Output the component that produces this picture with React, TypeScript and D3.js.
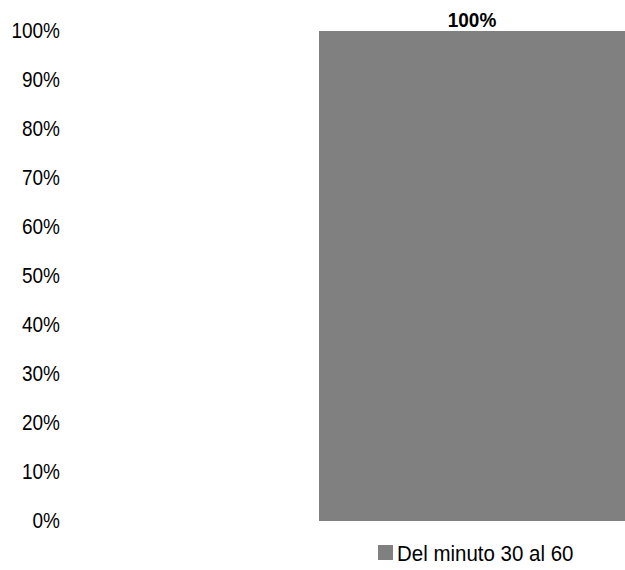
import React from "react";
import * as d3 from "d3";

const categories = ["Del minuto 30 al 60"];
const values = [1.0];
const yTicks = [0, 0.1, 0.2, 0.3, 0.4, 0.5, 0.6, 0.7, 0.8, 0.9, 1.0];
const seriesName = "Del minuto 30 al 60";

export default function App() {
  const W = 625, H = 570;
  const y = d3.scaleLinear().domain([0, 1]).range([521, 31]);
  const x = d3.scaleBand<string>().domain(categories).range([319, 625]).padding(0);
  const fmt = d3.format(".0%");
  const font = "'Liberation Sans', Arial, sans-serif";
  return (
    <svg width={W} height={H} style={{ position: "absolute", left: 0, top: 0 }}>
      {yTicks.map((t) => (
        <text key={t} transform={`translate(60,${y(t) - 1}) scale(1,1.16)`} textAnchor="end" dominantBaseline="central"
          fontFamily={font} fontSize={19} fill="#000">{fmt(t)}</text>
      ))}
      {categories.map((c, i) => (
        <g key={c}>
          <rect x={x(c)!} y={y(values[i])} width={x.bandwidth()} height={y(0) - y(values[i])} fill="#808080" />
          <text transform={`translate(${x(c)! + x.bandwidth() / 2},${y(values[i]) - 4}) scale(1,1.1)`} textAnchor="middle"
            fontFamily={font} fontSize={19} fontWeight="bold" fill="#000">{fmt(values[i])}</text>
        </g>
      ))}
      <rect x={378} y={545} width={15} height={15} fill="#808080" />
      <text transform="translate(397,561) scale(1,1.12)" fontFamily={font} fontSize={20.5} fill="#000">{seriesName}</text>
    </svg>
  );
}
